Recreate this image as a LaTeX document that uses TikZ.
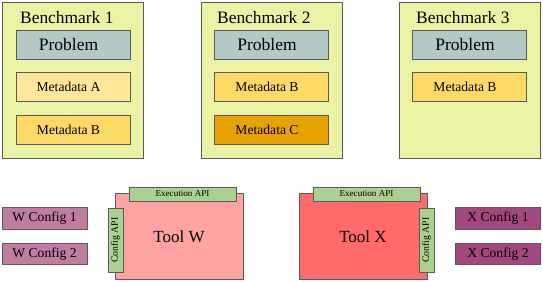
\documentclass[tikz,border=0pt]{standalone}
\usepackage{fontspec}
\setmainfont{Liberation Serif}
\usetikzlibrary{positioning}
\definecolor{edgegray}{HTML}{5A5A5A}
\definecolor{benchfill}{HTML}{EBF2A6}
\definecolor{probfill}{HTML}{B4C8C6}
\definecolor{metaA}{HTML}{FFE699}
\definecolor{metaB}{HTML}{FFD966}
\definecolor{metaC}{HTML}{E8A202}
\definecolor{toolW}{HTML}{FFA2A2}
\definecolor{toolX}{HTML}{FF6B6B}
\definecolor{apifill}{HTML}{ABD190}
\definecolor{cfgW}{HTML}{C17CA1}
\definecolor{cfgX}{HTML}{A3477F}
\tikzset{
  box/.style={draw=edgegray, line width=0.9pt, inner sep=0pt, anchor=center},
  benchbox/.style={box, fill=benchfill, minimum width=141pt, minimum height=156pt},
  benchtitle/.style={anchor=base west, inner sep=0pt, font=\fontsize{17.4}{20}\selectfont},
  leftshift/.style={execute at begin node=\hspace*{-9pt}},
  probbox/.style={box, leftshift, fill=probfill, minimum width=114pt, minimum height=29pt, font=\fontsize{17.5}{20}\selectfont},
  metabox/.style={box, leftshift, minimum width=114pt, minimum height=29pt, font=\fontsize{13.6}{16}\selectfont},
  toolbox/.style={box, minimum width=128pt, minimum height=86pt, font=\fontsize{17}{20}\selectfont},
  execapi/.style={box, fill=apifill, minimum width=107pt, minimum height=14pt, font=\fontsize{9.1}{11}\selectfont},
  cfgapi/.style={box, fill=apifill, rotate=90, minimum width=64pt, minimum height=15pt, font=\fontsize{9.7}{11}\selectfont},
  cfgbox/.style={box, minimum width=85pt, minimum height=21.5pt, font=\fontsize{13.6}{16}\selectfont}
}
\begin{document}
\begin{tikzpicture}[x=1pt, y=-1pt]
  \useasboundingbox (0,0) rectangle (543,281);
  % benchmarks
  \node[benchbox] (bench1) at (73,80) {};
  \node[benchtitle] (title1) at (20,23.5) {Benchmark 1};
  \node[probbox] (prob1) at (73,44.5) {Problem};
  \node[metabox, fill=metaA] (meta1a) at (73,86.5) {Metadata A};
  \node[metabox, fill=metaB] (meta1b) at (73,129.5) {Metadata B};
  \node[benchbox] (bench2) at (271.5,80) {};
  \node[benchtitle] (title2) at (217,23.5) {Benchmark 2};
  \node[probbox] (prob2) at (271.5,44.5) {Problem};
  \node[metabox, fill=metaB] (meta2b) at (271.5,86.5) {Metadata B};
  \node[metabox, fill=metaC] (meta2c) at (271.5,129.5) {Metadata C};
  \node[benchbox] (bench3) at (469.5,80) {};
  \node[benchtitle] (title3) at (416,23.5) {Benchmark 3};
  \node[probbox] (prob3) at (469.5,44.5) {Problem};
  \node[metabox, fill=metaB] (meta3b) at (469.5,86.5) {Metadata B};
  % tools
  \node[toolbox, fill=toolW] (toolw) at (179,236.5) {Tool W};
  \node[execapi] (execw) at (182.5,194) {Execution API};
  \node[cfgapi] (cfgapiw) at (115.5,240) {Config API};
  \node[toolbox, fill=toolX] (toolx) at (363,236.5) {Tool X};
  \node[execapi] (execx) at (366.5,194) {Execution API};
  \node[cfgapi] (cfgapix) at (426.5,240) {Config API};
  % configs
  \node[cfgbox, fill=cfgW] (wcfg1) at (44.5,218.5) {W Config 1};
  \node[cfgbox, fill=cfgW] (wcfg2) at (44.5,254) {W Config 2};
  \node[cfgbox, fill=cfgX] (xcfg1) at (498,218.5) {X Config 1};
  \node[cfgbox, fill=cfgX] (xcfg2) at (498,254) {X Config 2};
\end{tikzpicture}
\end{document}
